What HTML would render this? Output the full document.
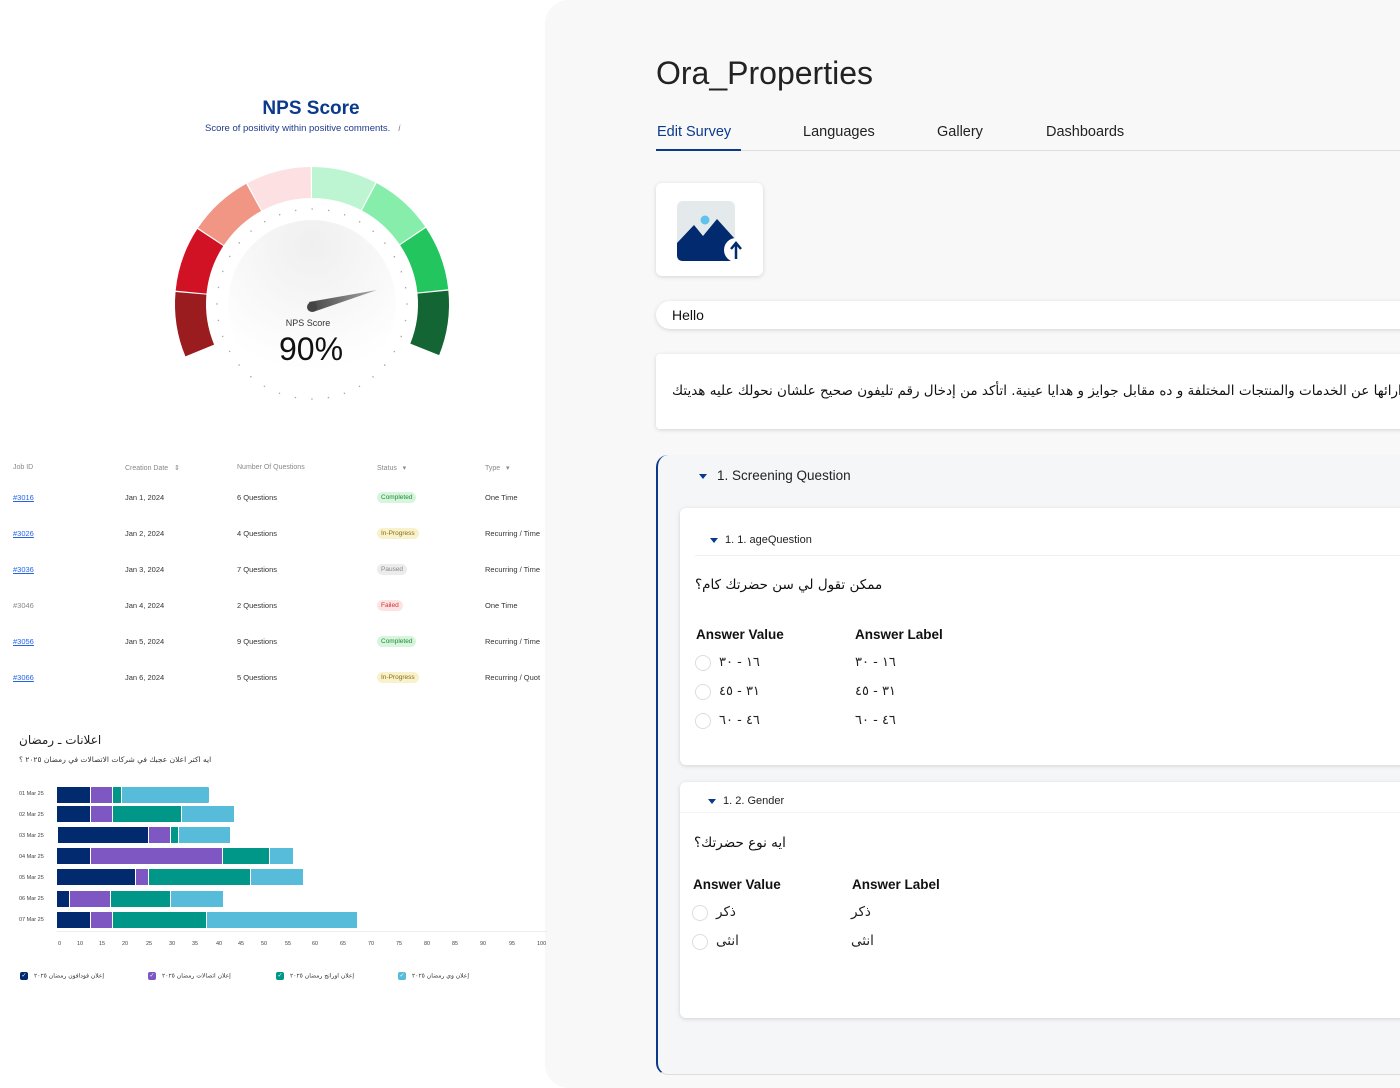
<!DOCTYPE html>
<html><head><meta charset="utf-8">
<style>
*{margin:0;padding:0;box-sizing:border-box}
body{width:1400px;height:1088px;background:#fff;font-family:"Liberation Sans","Noto Sans CJK SC",sans-serif;position:relative;overflow:hidden;color:#222}
.a{position:absolute;white-space:nowrap}
.ar{font-family:"DejaVu Sans","Noto Sans CJK SC",sans-serif}
.th{font-size:7px;color:#888;top:464px}
.td{font-size:7.5px;color:#333}
.lk{color:#2563eb;text-decoration:underline}
.bd{font-size:6.5px;padding:2px 4px;border-radius:6px}
.dl{font-size:5.5px;color:#444;left:19px}
.bar{position:absolute;height:16px;display:flex;left:0}
.bar div{height:16px;border-right:1px solid #fff}
.n{background:#022a6e}.p{background:#7e57c2}.t{background:#009688}.l{background:#56bcd9}
.tk{font-size:5.5px;color:#444;top:941px}
.lg{top:972px;font-size:6px;color:#333}
.cb{display:inline-block;width:8px;height:8px;border-radius:2px;vertical-align:middle;margin-right:6px;color:#fff;font-size:6px;line-height:8px;text-align:center}
.card{position:absolute;background:#fff;border-radius:6px;box-shadow:0 1px 4px rgba(0,0,0,.15)}
.rad{position:absolute;width:16px;height:16px;border-radius:50%;border:1px solid #ddd;background:#fff}
.tri{display:inline-block;width:0;height:0;border-left:4px solid transparent;border-right:4px solid transparent;border-top:5px solid #0b3a8c;vertical-align:middle}
</style></head><body>
<div style="position:absolute;left:545px;top:0;width:855px;height:1088px;background:#f8f8f9;border-radius:24px 0 0 24px"></div>

<div class="a" style="left:0;width:622px;text-align:center;top:98px;font-size:19px;font-weight:bold;color:#0b3a8c">NPS Score</div>
<div class="a" style="left:205px;top:123px;font-size:9.5px;color:#1e3a8a">Score of positivity within positive comments. &nbsp;&nbsp;<i style="color:#888">i</i></div>
<svg class="a" style="left:0;top:0" width="545" height="420">
<defs><radialGradient id="g" cx="50%" cy="15%" r="75%"><stop offset="0" stop-color="#efefef"/><stop offset="1" stop-color="#fff"/></radialGradient>
<linearGradient id="nd" x1="0" x2="1"><stop offset="0" stop-color="#444"/><stop offset="1" stop-color="#aaa"/></linearGradient></defs>
<circle cx="312" cy="304" r="84" fill="url(#g)"/>
<g fill="none" stroke-width="31">
<circle cx="312" cy="304" r="121.5" stroke="#9b1c1f" stroke-dasharray="58.4 705" transform="rotate(157.5 312 304)"/>
<circle cx="312" cy="304" r="121.5" stroke="#d01224" stroke-dasharray="58.4 705" transform="rotate(185.625 312 304)"/>
<circle cx="312" cy="304" r="121.5" stroke="#f19584" stroke-dasharray="58.4 705" transform="rotate(213.75 312 304)"/>
<circle cx="312" cy="304" r="121.5" stroke="#fde0e1" stroke-dasharray="58.4 705" transform="rotate(241.875 312 304)"/>
<circle cx="312" cy="304" r="121.5" stroke="#bdf5d2" stroke-dasharray="58.4 705" transform="rotate(270 312 304)"/>
<circle cx="312" cy="304" r="121.5" stroke="#86eeaa" stroke-dasharray="58.4 705" transform="rotate(298.125 312 304)"/>
<circle cx="312" cy="304" r="121.5" stroke="#22c55e" stroke-dasharray="58.4 705" transform="rotate(326.25 312 304)"/>
<circle cx="312" cy="304" r="121.5" stroke="#146534" stroke-dasharray="58.4 705" transform="rotate(354.375 312 304)"/>
</g>
<circle cx="312" cy="304" r="95" fill="none" stroke="#aaa" stroke-width="1.6" stroke-linecap="round" stroke-dasharray="0 16.58"/>
<polygon points="309,302 377,290 313,312" fill="url(#nd)"/>
<circle cx="312" cy="307" r="5" fill="#444"/>
<text x="308" y="326" font-size="9" text-anchor="middle" fill="#333" font-family="Liberation Sans">NPS Score</text>
<text x="311" y="360" font-size="32" text-anchor="middle" fill="#111" font-family="Liberation Sans">90%</text>
</svg>

<div class="a th" style="left:13px">Job ID</div>
<div class="a th" style="left:125px">Creation Date &nbsp;&nbsp;⇕</div>
<div class="a th" style="left:237px">Number Of Questions</div>
<div class="a th" style="left:377px">Status &nbsp;&nbsp;▾</div>
<div class="a th" style="left:485px">Type &nbsp;&nbsp;▾</div>

<div class="a td lk" style="left:13px;top:493px">#3016</div><div class="a td" style="left:125px;top:493px">Jan 1, 2024</div><div class="a td" style="left:237px;top:493px">6 Questions</div><div class="a bd" style="left:377px;top:492px;background:#d7f5dc;color:#1f8a3a">Completed</div><div class="a td" style="left:485px;top:493px">One Time</div>
<div class="a td lk" style="left:13px;top:529px">#3026</div><div class="a td" style="left:125px;top:529px">Jan 2, 2024</div><div class="a td" style="left:237px;top:529px">4 Questions</div><div class="a bd" style="left:377px;top:528px;background:#f7f1cc;color:#8a6d10">In-Progress</div><div class="a td" style="left:485px;top:529px">Recurring / Time</div>
<div class="a td lk" style="left:13px;top:565px">#3036</div><div class="a td" style="left:125px;top:565px">Jan 3, 2024</div><div class="a td" style="left:237px;top:565px">7 Questions</div><div class="a bd" style="left:377px;top:564px;background:#ececec;color:#888">Paused</div><div class="a td" style="left:485px;top:565px">Recurring / Time</div>
<div class="a td" style="left:13px;top:601px;color:#888">#3046</div><div class="a td" style="left:125px;top:601px">Jan 4, 2024</div><div class="a td" style="left:237px;top:601px">2 Questions</div><div class="a bd" style="left:377px;top:600px;background:#fde4e4;color:#d0302f">Failed</div><div class="a td" style="left:485px;top:601px">One Time</div>
<div class="a td lk" style="left:13px;top:637px">#3056</div><div class="a td" style="left:125px;top:637px">Jan 5, 2024</div><div class="a td" style="left:237px;top:637px">9 Questions</div><div class="a bd" style="left:377px;top:636px;background:#d7f5dc;color:#1f8a3a">Completed</div><div class="a td" style="left:485px;top:637px">Recurring / Time</div>
<div class="a td lk" style="left:13px;top:673px">#3066</div><div class="a td" style="left:125px;top:673px">Jan 6, 2024</div><div class="a td" style="left:237px;top:673px">5 Questions</div><div class="a bd" style="left:377px;top:672px;background:#f7f1cc;color:#8a6d10">In-Progress</div><div class="a td" style="left:485px;top:673px">Recurring / Quot</div>

<div class="a ar" style="left:19px;top:733px;font-size:12px;color:#222">اعلانات ـ رمضان</div>
<div class="a ar" style="left:19px;top:755px;font-size:7.5px;color:#333">ايه اكتر اعلان عجبك في شركات الاتصالات في رمضان ٢٠٢٥ ؟</div>
<div class="a dl" style="top:791px">01 Mar 25</div>
<div class="a dl" style="top:812px">02 Mar 25</div>
<div class="a dl" style="top:833px">03 Mar 25</div>
<div class="a dl" style="top:854px">04 Mar 25</div>
<div class="a dl" style="top:875px">05 Mar 25</div>
<div class="a dl" style="top:896px">06 Mar 25</div>
<div class="a dl" style="top:917px">07 Mar 25</div>
<div style="position:absolute;left:57px;top:787px">
<div class="bar" style="top:0"><div class="n" style="width:34px"></div><div class="p" style="width:22px"></div><div class="t" style="width:9px"></div><div class="l" style="width:88px;border-radius:0 2px 2px 0"></div></div>
<div class="bar" style="top:19px"><div class="n" style="width:34px"></div><div class="p" style="width:22px"></div><div class="t" style="width:69px"></div><div class="l" style="width:53px"></div></div>
<div class="bar" style="top:40px;left:1px"><div class="n" style="width:91px"></div><div class="p" style="width:22px"></div><div class="t" style="width:8px"></div><div class="l" style="width:52px"></div></div>
<div class="bar" style="top:61px"><div class="n" style="width:34px"></div><div class="p" style="width:132px"></div><div class="t" style="width:47px"></div><div class="l" style="width:24px"></div></div>
<div class="bar" style="top:82px"><div class="n" style="width:79px"></div><div class="p" style="width:13px"></div><div class="t" style="width:102px"></div><div class="l" style="width:53px"></div></div>
<div class="bar" style="top:104px"><div class="n" style="width:13px"></div><div class="p" style="width:41px"></div><div class="t" style="width:60px"></div><div class="l" style="width:53px"></div></div>
<div class="bar" style="top:125px"><div class="n" style="width:34px"></div><div class="p" style="width:22px"></div><div class="t" style="width:94px"></div><div class="l" style="width:151px"></div></div>
</div>
<div class="a" style="left:57px;top:931px;width:490px;height:1px;background:#eee"></div>
<div class="a tk" style="left:58px">0</div><div class="a tk" style="left:77px">10</div><div class="a tk" style="left:99px">15</div><div class="a tk" style="left:122px">20</div><div class="a tk" style="left:146px">25</div><div class="a tk" style="left:169px">30</div><div class="a tk" style="left:192px">35</div><div class="a tk" style="left:216px">40</div><div class="a tk" style="left:238px">45</div><div class="a tk" style="left:261px">50</div><div class="a tk" style="left:285px">55</div><div class="a tk" style="left:312px">60</div><div class="a tk" style="left:340px">65</div><div class="a tk" style="left:368px">70</div><div class="a tk" style="left:396px">75</div><div class="a tk" style="left:424px">80</div><div class="a tk" style="left:452px">85</div><div class="a tk" style="left:480px">90</div><div class="a tk" style="left:509px">95</div><div class="a tk" style="left:537px">100</div>
<div class="a lg ar" style="left:20px"><span class="cb n">✓</span>إعلان فودافون رمضان ٢٠٢٥</div>
<div class="a lg ar" style="left:148px"><span class="cb p">✓</span>إعلان اتصالات رمضان ٢٠٢٥</div>
<div class="a lg ar" style="left:276px"><span class="cb t">✓</span>إعلان اورانج رمضان ٢٠٢٥</div>
<div class="a lg ar" style="left:398px"><span class="cb l">✓</span>إعلان وي رمضان ٢٠٢٥</div>

<div class="a" style="left:656px;top:55px;font-size:32px;color:#222">Ora_Properties</div>
<div class="a" style="left:657px;top:124px;font-size:14.5px;color:#0b3a8c">Edit Survey</div>
<div class="a" style="left:803px;top:124px;font-size:14.5px;color:#222">Languages</div>
<div class="a" style="left:937px;top:124px;font-size:14.5px;color:#222">Gallery</div>
<div class="a" style="left:1046px;top:124px;font-size:14.5px;color:#222">Dashboards</div>
<div class="a" style="left:656px;top:150px;width:744px;height:1px;background:#ddd"></div>
<div class="a" style="left:656px;top:149px;width:85px;height:2px;background:#0b3a8c"></div>

<div class="card" style="left:656px;top:183px;width:107px;height:93px"></div>
<svg class="a" style="left:677px;top:201px" width="70" height="62">
<rect x="0" y="0" width="58" height="60" rx="6" fill="#e4e9ec"/>
<circle cx="28" cy="19" r="4.5" fill="#5ec3ea"/>
<path d="M0 42 L17 24 L26 35 L40 18 L58 38 L58 54 Q58 60 52 60 L6 60 Q0 60 0 54 Z" fill="#022a6e"/>
<circle cx="59" cy="49" r="12" fill="#fff"/>
<path d="M59 58 L59 43 M54 48 L59 42 L64 48" stroke="#022a6e" stroke-width="2.5" fill="none"/>
</svg>

<div class="card" style="left:656px;top:301px;width:760px;height:28px;border-radius:14px"></div>
<div class="a" style="left:672px;top:307px;font-size:14px;color:#111">Hello</div>

<div class="card" style="left:656px;top:354px;width:760px;height:75px;border-radius:4px;overflow:hidden">
<div class="a ar" style="left:16px;top:29px;font-size:13.5px;color:#111;direction:rtl">شاركنا من ارائها عن الخدمات والمنتجات المختلفة و ده مقابل جوايز و هدايا عينية. اتأكد من إدخال رقم تليفون صحيح علشان نحولك عليه هديتك</div>
</div>

<div class="a" style="left:656px;top:455px;width:760px;height:620px;background:#f5f6f8;border-left:2px solid #0b3a8c;border-bottom:1px solid #ddd;border-radius:12px 0 0 12px"></div>
<div class="a" style="left:699px;top:468px;font-size:13.5px;color:#222"><span class="tri" style="margin-right:10px"></span>1. Screening Question</div>

<div class="card" style="left:680px;top:508px;width:740px;height:257px"></div>
<div class="a" style="left:710px;top:534px;font-size:11px;color:#222"><span class="tri" style="margin-right:7px"></span>1. 1. ageQuestion</div>
<div class="a" style="left:695px;top:555px;width:705px;height:1px;background:#f0f0f0"></div>
<div class="a ar" style="left:695px;top:577px;font-size:13.5px;color:#111">ممكن تقول لي سن حضرتك كام؟</div>
<div class="a" style="left:696px;top:627px;font-size:13.5px;font-weight:bold;color:#111">Answer Value</div>
<div class="a" style="left:855px;top:627px;font-size:13.5px;font-weight:bold;color:#111">Answer Label</div>
<div class="rad" style="left:695px;top:655px"></div><div class="a ar" style="left:719px;top:655px;font-size:13px">١٦ - ٣٠</div><div class="a ar" style="left:855px;top:655px;font-size:13px">١٦ - ٣٠</div>
<div class="rad" style="left:695px;top:684px"></div><div class="a ar" style="left:719px;top:684px;font-size:13px">٣١ - ٤٥</div><div class="a ar" style="left:855px;top:684px;font-size:13px">٣١ - ٤٥</div>
<div class="rad" style="left:695px;top:713px"></div><div class="a ar" style="left:719px;top:713px;font-size:13px">٤٦ - ٦٠</div><div class="a ar" style="left:855px;top:713px;font-size:13px">٤٦ - ٦٠</div>

<div class="card" style="left:680px;top:782px;width:740px;height:236px"></div>
<div class="a" style="left:708px;top:795px;font-size:11px;color:#222"><span class="tri" style="margin-right:7px"></span>1. 2. Gender</div>
<div class="a" style="left:680px;top:812px;width:720px;height:1px;background:#f3f3f3"></div>
<div class="a ar" style="left:694px;top:835px;font-size:13.5px;color:#111">ايه نوع حضرتك؟</div>
<div class="a" style="left:693px;top:877px;font-size:13.5px;font-weight:bold;color:#111">Answer Value</div>
<div class="a" style="left:852px;top:877px;font-size:13.5px;font-weight:bold;color:#111">Answer Label</div>
<div class="rad" style="left:692px;top:905px"></div><div class="a ar" style="left:716px;top:904px;font-size:13.5px">ذكر</div><div class="a ar" style="left:851px;top:904px;font-size:13.5px">ذكر</div>
<div class="rad" style="left:692px;top:934px"></div><div class="a ar" style="left:716px;top:933px;font-size:13.5px">انثى</div><div class="a ar" style="left:851px;top:933px;font-size:13.5px">انثى</div>
</body></html>
